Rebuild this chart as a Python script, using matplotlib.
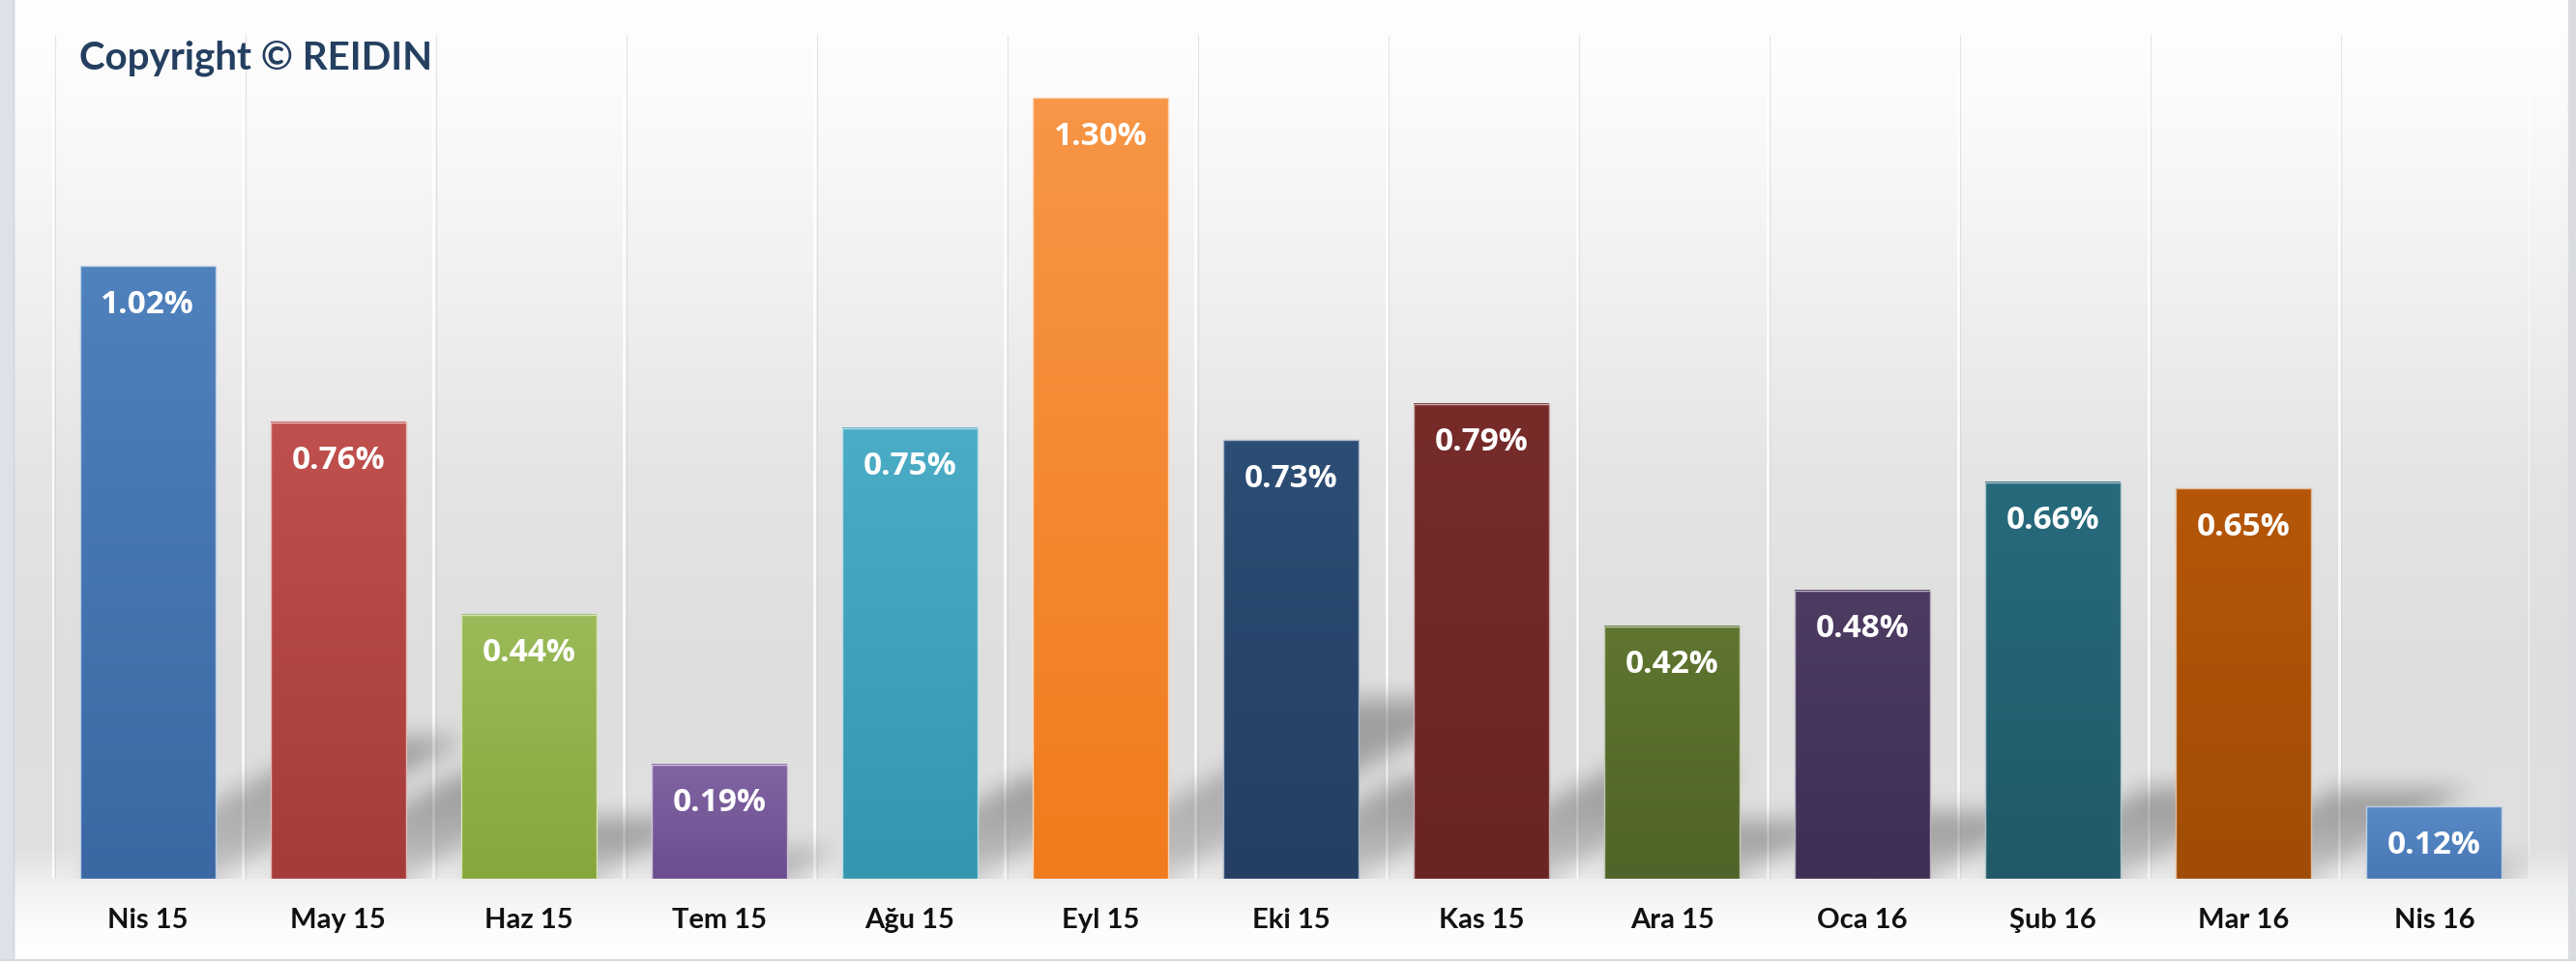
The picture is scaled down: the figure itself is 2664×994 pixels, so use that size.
import matplotlib.pyplot as plt
import numpy as np
from matplotlib.colors import LinearSegmentedColormap, to_rgb
from matplotlib.patches import Rectangle

months = ['Nis 15', 'May 15', 'Haz 15', 'Tem 15', 'Ağu 15', 'Eyl 15', 'Eki 15',
          'Kas 15', 'Ara 15', 'Oca 16', 'Şub 16', 'Mar 16', 'Nis 16']
change = [1.02, 0.76, 0.44, 0.19, 0.75, 1.30, 0.73, 0.79, 0.42, 0.48, 0.66, 0.65, 0.12]
top_colors = ['#4f81bd', '#c0504d', '#9bbb59', '#8064a2', '#4bacc6', '#f79646', '#2c4d75',
              '#772c2a', '#5f7530', '#4d3b62', '#276a7c', '#b65708', '#5a8ac6']
bottom_colors = ['#3b68a3', '#a53c39', '#85a73c', '#6a4e8e', '#3596af', '#f07b1c', '#243f63',
                 '#6a2424', '#4f6428', '#3f2f55', '#215968', '#a04c06', '#4777b5']

W, H = 2664, 994
BAR_W = 0.71


def lighten(c, f):
    r = np.array(to_rgb(c))
    return tuple(r + (1 - r) * f)


def box_blur(a, r, axis):
    pad = [(0, 0), (0, 0)]
    pad[axis] = (r + 1, r)
    c = np.cumsum(np.pad(a, pad, mode='edge'), axis=axis)
    if axis == 0:
        return (c[2 * r + 1:, :] - c[:-2 * r - 1, :]) / (2 * r + 1)
    return (c[:, 2 * r + 1:] - c[:, :-2 * r - 1]) / (2 * r + 1)


def main():
    fig = plt.figure(figsize=(W / 100, H / 100), dpi=100)

    # background gradient + frame
    bg = fig.add_axes([0, 0, 1, 1], zorder=-10)
    stops = [(0, '#ffffff'), (100, '#fbfbfb'), (300, '#f0f0f0'), (500, '#e4e4e4'),
             (700, '#dedede'), (880, '#e0e0e0'), (920, '#f2f2f2'), (960, '#fcfcfc'), (994, '#ffffff')]
    cmap = LinearSegmentedColormap.from_list('bg', [(p / H, c) for p, c in stops])
    bg.imshow(np.linspace(0, 1, H).reshape(-1, 1), cmap=cmap, aspect='auto',
              extent=(0, W, H, 0), origin='upper')
    bg.add_patch(Rectangle((0, 0), 14, H, color='#dde2e8'))
    bg.add_patch(Rectangle((2656, 0), 8, H, color='#d9dbdf'))
    bg.plot([14, 14], [0, H], color='#cfd4da', lw=1)
    bg.plot([0, W], [H - 1, H - 1], color='#d5d8dc', lw=1.5)
    bg.set_xlim(0, W)
    bg.set_ylim(H, 0)
    bg.axis('off')

    ax = fig.add_axes([54 / W, 1 - 909 / H, (2616 - 54) / W, (909 - 36) / H])
    ax.set_facecolor('none')
    ymax = 1.30 * (909 - 36) / 808
    nx, ny = 2616 - 54, 909 - 36

    # vertical separators
    for b in np.arange(-0.5, 13, 1):
        ax.axvline(b, color='white', lw=2, alpha=0.9, zorder=1)
        ax.axvline(b + 2.5 * 13.0 / nx, color='#cdcdcd', lw=0.8, alpha=0.5, zorder=1)

    x = np.arange(len(months))

    # soft shadows cast to the upper right (blurred mask)
    gx = np.linspace(-0.5, 12.5, nx)
    gy = np.linspace(0, ymax, ny)
    X, Y = np.meshgrid(gx, gy)
    mask = np.zeros_like(X)
    for i, v in enumerate(change):
        x0, x1 = x[i] - BAR_W / 2, x[i] + BAR_W / 2
        top, dx = 0.23 * v, 1.3 * v
        frac = Y / top
        inside = (frac <= 1) & (X >= x0 + dx * frac) & (X <= x1 + dx * frac)
        mask = np.maximum(mask, np.where(inside, 0.45 + 0.55 * np.clip(frac * 1.3, 0, 1), 0))
    for _ in range(3):
        mask = box_blur(mask, 11, 0)
        mask = box_blur(mask, 11, 1)
    rgba = np.zeros((ny, nx, 4))
    rgba[..., :3] = 0.38
    rgba[..., 3] = mask * 0.5
    ax.imshow(rgba, origin='lower', aspect='auto', extent=(-0.5, 12.5, 0, ymax), zorder=2)

    bars = ax.bar(x, change, width=BAR_W, color=top_colors, zorder=3, linewidth=0)
    grad = np.linspace(0, 1, 100).reshape(-1, 1)
    for i, (v, rect) in enumerate(zip(change, bars)):
        cm = LinearSegmentedColormap.from_list('b%d' % i, [bottom_colors[i], top_colors[i]])
        ax.imshow(grad, cmap=cm, aspect='auto', origin='lower', zorder=3.5,
                  extent=(rect.get_x(), rect.get_x() + BAR_W, 0, v))
        ax.add_patch(Rectangle((rect.get_x(), 0), BAR_W, v, fill=False,
                               edgecolor=lighten(top_colors[i], 0.6), lw=1.0, zorder=4))
        ax.annotate('%.2f%%' % v, (x[i], v), xytext=(0, -40), textcoords='offset pixels',
                    ha='center', va='center', color='white', fontsize=24,
                    fontweight='bold', family='Open Sans', zorder=5)

    ax.set_xlim(-0.5, 12.5)
    ax.set_ylim(0, ymax)
    ax.set_xticks(x)
    ax.set_xticklabels(months, fontsize=21, fontweight='bold', family='Lato', color='#111111')
    for t in ax.get_xticklabels():
        t.set_va('baseline')
    ax.tick_params(axis='x', length=0, pad=36.5)
    ax.set_yticks([])
    for sp in ax.spines.values():
        sp.set_visible(False)

    fig.text(82 / W, 1 - 60 / H, 'Copyright © REIDIN', ha='left', va='center',
             fontsize=29, fontweight='bold', family='Lato', color='#243f60')

    plt.savefig('out.png', dpi=100)


if __name__ == '__main__':
    main()
